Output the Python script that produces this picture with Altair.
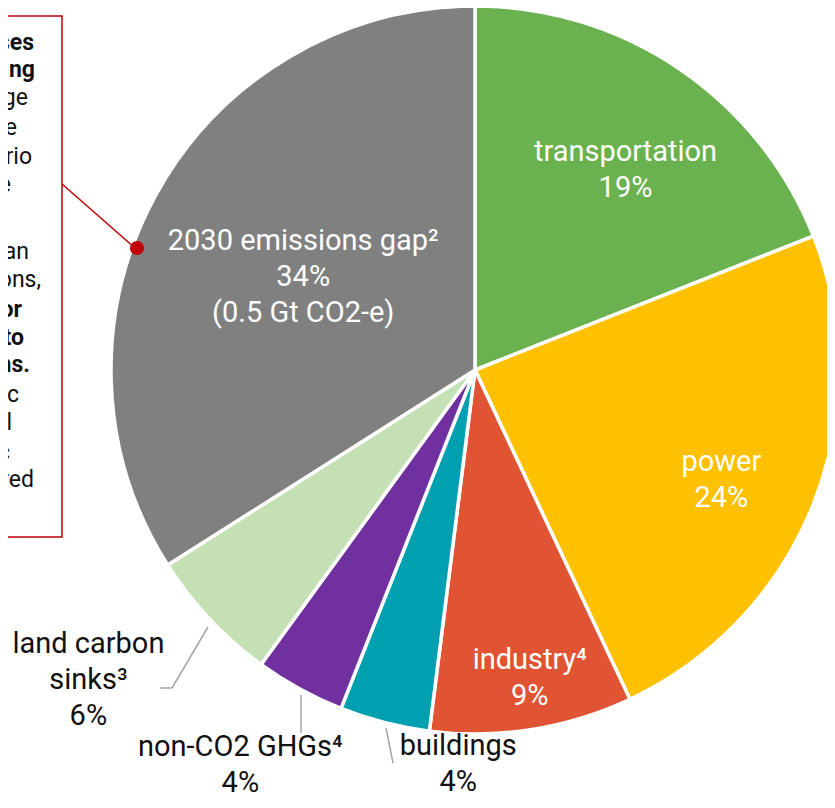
import altair as alt
import pandas as pd

# ---------------- data ----------------
categories = ["transportation", "power", "industry", "buildings",
              "non-CO2 GHGs", "land carbon sinks", "2030 emissions gap"]
shares = [19, 24, 9, 4, 4, 6, 34]
colors = ["#6AB24F", "#FFC000", "#E05433", "#00A0B0", "#7030A0", "#C5E0B4", "#808080"]

label_texts = [
    "transportation\n19%",
    "power\n24%",
    "industry\u2074\n9%",
    "buildings\n4%",
    "non-CO2 GHGs\u2074\n4%",
    "land carbon\nsinks\u00b3\n6%",
    "2030 emissions gap\u00b2\n34%\n(0.5 Gt CO2-e)",
]
label_inside = [True, True, True, False, False, False, True]

# text fragments visible in the (cropped) call-out box
box_fragments = ["ses", "ning", "nge", "re", "ario", "e", "ean", "ons,",
                 "or", "to", "ns.", "ic", "al", "c", "red"]
box_bold = [True, True, False, False, False, False, False, False,
            True, True, True, False, False, False, False]

# ---------------- layout (pixels) ----------------
W, H = 819, 792
CX, CY = 467, 362
R = 364
LH = 36
label_radius = [250, 265, 312, 405, 458, 470, 196]
label_dx = [10, 0, 6, 84, -14, -44, 0]
label_dy = [-11, -6, -18, -16, -24, -48, -35]
box_right = [26, 27, 20, 9, 24, 3, 21, 33, 14, 16, 22, 11, 4, 2, 26]
box_y = [35, 62, 90, 120, 149, 177, 244, 272, 302, 330, 357, 387, 415, 445, 472]

FONT = "Roboto"
RED = "#C00000"
GREY_LINE = "#A6A6A6"

df = pd.DataFrame({"category": categories, "share": shares,
                   "order": list(range(len(categories)))})

theta_scale = alt.Scale(domain=[0, 100])

pie = alt.Chart(df).mark_arc(outerRadius=R, stroke="white", strokeWidth=3.5).encode(
    theta=alt.Theta("share:Q", stack=True, scale=theta_scale),
    color=alt.Color("category:N", scale=alt.Scale(domain=categories, range=colors), legend=None),
    order=alt.Order("order:Q"),
    x=alt.value(CX), y=alt.value(CY),
)

layers = [pie]
for i, cat in enumerate(categories):
    t = (alt.Chart(df)
         .transform_window(cum="sum(share)", sort=[alt.SortField("order")], frame=[None, 0])
         .transform_calculate(mid="datum.cum - datum.share / 2")
         .transform_filter(alt.datum.category == cat)
         .mark_text(font=FONT, fontSize=29, lineHeight=LH, lineBreak="\n",
                    align="center", baseline="middle",
                    color="white" if label_inside[i] else "#111111",
                    dx=label_dx[i], dy=label_dy[i])
         .encode(theta=alt.Theta("mid:Q", scale=theta_scale),
                 radius=alt.value(label_radius[i]),
                 text=alt.value(label_texts[i]),
                 x=alt.value(CX), y=alt.value(CY)))
    layers.append(t)

# leader lines
leaders = pd.DataFrame({
    "x": [200, 164, 293, 378], "y": [619, 680, 687, 720],
    "x2": [164, 152, 293, 385], "y2": [680, 680, 725, 755],
})
lead = alt.Chart(leaders).mark_rule(color=GREY_LINE, strokeWidth=1.5).encode(
    x=alt.X("x:Q", scale=None, axis=None), y=alt.Y("y:Q", scale=None, axis=None),
    x2="x2:Q", y2="y2:Q")
layers.append(lead)

# call-out box, connector and dot
box = alt.Chart(pd.DataFrame({"a": [0]})).mark_rect(
    fill=None, stroke=RED, strokeWidth=1.5).encode(
    x=alt.value(-20), x2=alt.value(54), y=alt.value(8), y2=alt.value(529))
conn = alt.Chart(pd.DataFrame({"a": [0]})).mark_rule(color=RED, strokeWidth=1.5).encode(
    x=alt.value(54), y=alt.value(176), x2=alt.value(127), y2=alt.value(240))
dot = alt.Chart(pd.DataFrame({"a": [0]})).mark_point(
    filled=True, color=RED, opacity=1, size=200, shape="circle").encode(
    x=alt.value(129), y=alt.value(240))
layers += [box, conn, dot]

bdf = pd.DataFrame({"frag": box_fragments, "bold": box_bold,
                    "xr": box_right, "yc": box_y})
for bold in (True, False):
    layers.append(
        alt.Chart(bdf).transform_filter(alt.datum.bold == bold).mark_text(
            font=FONT, fontSize=23, align="right", baseline="middle",
            fontWeight="bold" if bold else "normal", color="#111111").encode(
            x=alt.X("xr:Q", scale=None, axis=None),
            y=alt.Y("yc:Q", scale=None, axis=None),
            text="frag:N"))

chart = alt.layer(*layers).properties(
    width=W, height=H, padding=0,
    autosize=alt.AutoSizeParams(type="none"),
).configure_view(stroke=None)

chart.save("out.html", embed_options={"renderer": "svg", "actions": False})
